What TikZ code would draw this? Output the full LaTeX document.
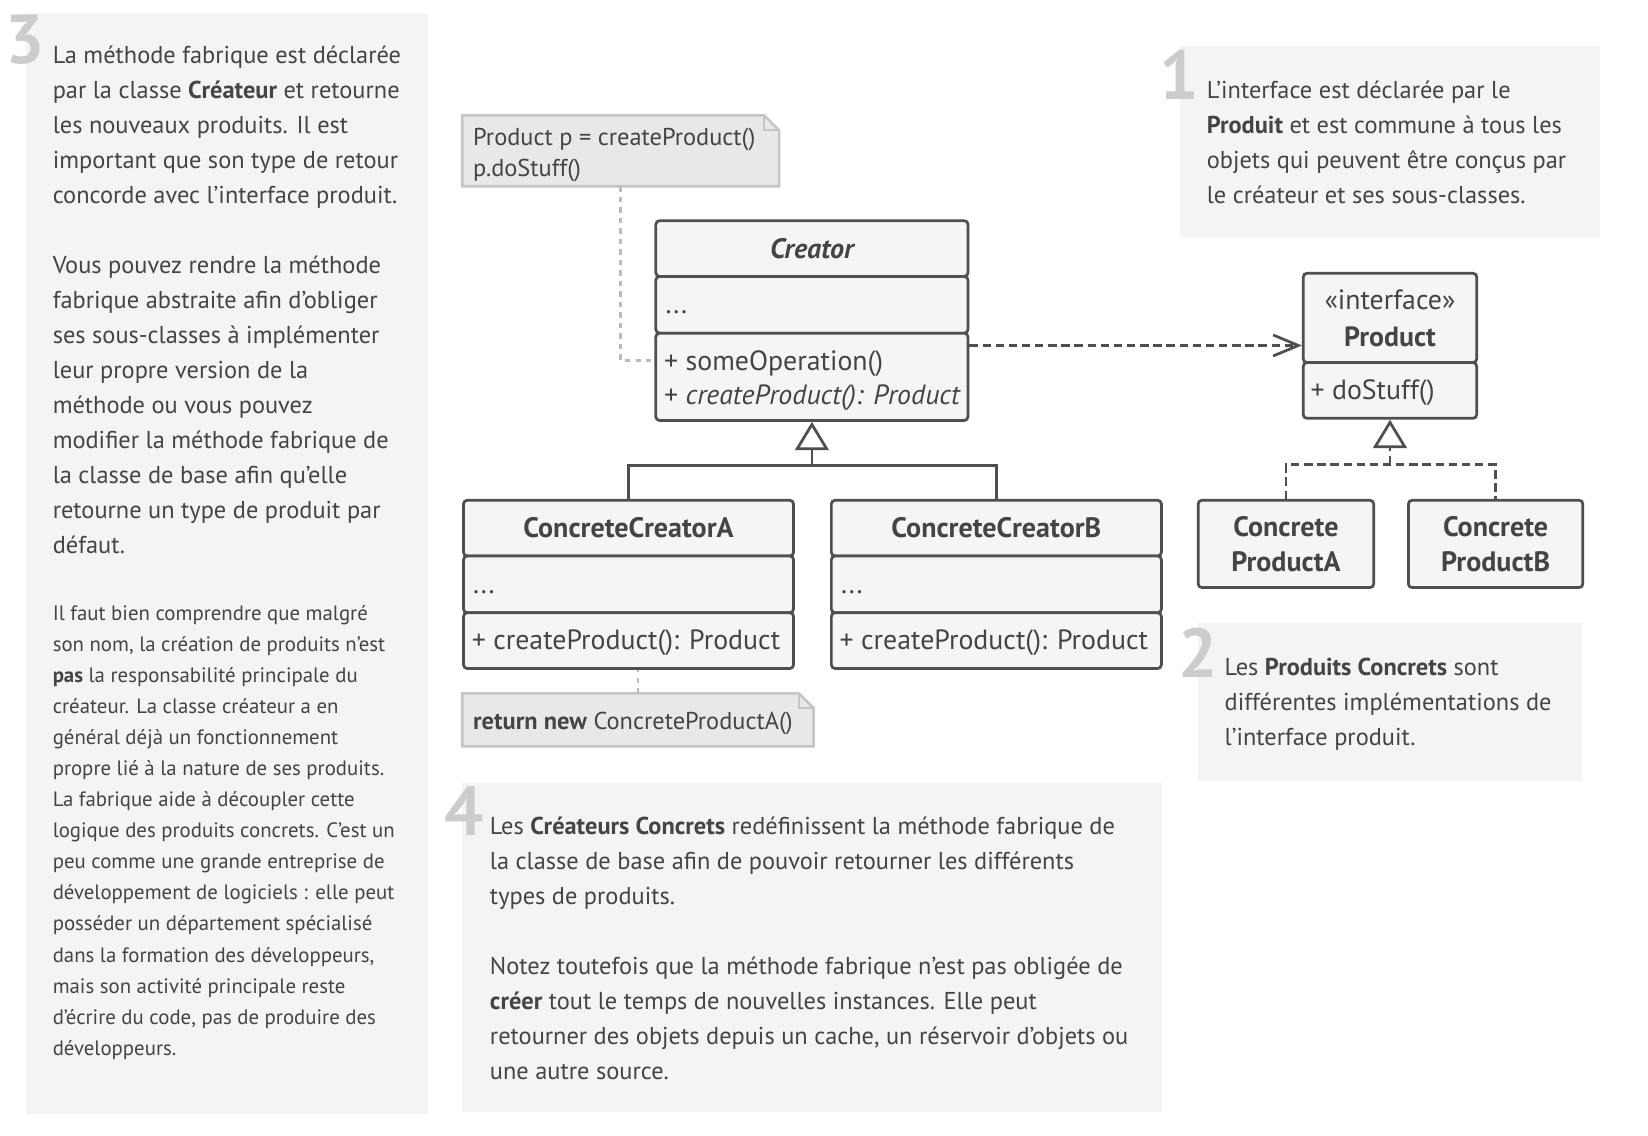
\documentclass[tikz,border=0pt]{standalone}
\usepackage{fontspec}
\setmainfont{PT Sans}
\usetikzlibrary{arrows.meta}

\definecolor{ink}{HTML}{444444}
\definecolor{edge}{HTML}{4F4F4F}
\definecolor{panel}{HTML}{F4F4F4}
\definecolor{boxfill}{HTML}{F5F5F5}
\definecolor{notefill}{HTML}{E8E8E8}
\definecolor{noteedge}{HTML}{C6C6C6}
\definecolor{numgray}{HTML}{CCCCCC}
\definecolor{tracer}{HTML}{BBBBBB}

\begin{document}
\begin{tikzpicture}[x=1pt,y=-1pt,
  panelbox/.style={fill=panel, draw=none},
  bignum/.style={font=\fontsize{66}{66}\selectfont\bfseries, text=numgray, inner sep=0pt, anchor=north east},
  bodytext/.style={font=\fontsize{23.2}{33.35}\selectfont, text=ink, align=left, inner sep=0pt, anchor=base west},
  smalltext/.style={bodytext, font=\fontsize{19.8}{29.57}\selectfont},
  comp/.style={draw=edge, fill=boxfill, line width=2.6pt, rounded corners=3.5pt, inner sep=0pt, text=ink},
  title/.style={font=\fontsize{26.7}{33}\selectfont\bfseries, align=center},
  member/.style={text=ink, font=\fontsize{26.5}{32}\selectfont, inner sep=0pt, align=left, anchor=west},
  notebox/.style={fill=notefill, draw=noteedge, line width=2.4pt, line join=miter},
  notetext/.style={text=ink, font=\fontsize{23.2}{30}\selectfont, inner sep=0pt, align=left, anchor=base west},
  noteline/.style={draw=tracer, line width=2.4pt, dash pattern=on 5pt off 5pt},
  solidline/.style={draw=edge, line width=2.6pt},
  dashline/.style={draw=edge, line width=2.6pt, dash pattern=on 8pt off 4.5pt},
  inherit/.style={-{Triangle[open, length=27pt, width=32pt, line width=2.6pt]}},
  depend/.style={-{Straight Barb[length=24pt, width=20pt, line width=2.6pt]}}
]
\useasboundingbox (0,0) rectangle (1568,1080);
\fill[white] (0,0) rectangle (1568,1080);

% ---- explanation panels ----
\fill[panelbox] (25,12) rectangle (407,1060);
\fill[panelbox] (1123,44) rectangle (1522,226);
\fill[panelbox] (1140,593) rectangle (1505,743);
\fill[panelbox] (440,745) rectangle (1106,1058);

\node[bignum] (n3) at (43,14) {3};
\node[bignum] (n1) at (1141,47) {1};
\node[bignum] (n2) at (1159,597) {2};
\node[bignum] (n4) at (461,748) {4};

% each text block is anchored on the baseline of its last line
\node[bodytext] (t3a) at (50,527) {La méthode fabrique est déclarée\\
par la classe \textbf{Créateur} et retourne\\
les nouveaux produits. Il est\\
important que son type de retour\\
concorde avec l’interface produit.\\[33.35pt]
Vous pouvez rendre la méthode\\
fabrique abstraite afin d’obliger\\
ses sous-classes à implémenter\\
leur propre version de la\\
méthode ou vous pouvez\\
modifier la méthode fabrique de\\
la classe de base afin qu’elle\\
retourne un type de produit par\\
défaut.};

\node[smalltext] (t3b) at (50,1004) {Il faut bien comprendre que malgré\\
son nom, la création de produits n’est\\
\textbf{pas} la responsabilité principale du\\
créateur. La classe créateur a en\\
général déjà un fonctionnement\\
propre lié à la nature de ses produits.\\
La fabrique aide à découpler cette\\
logique des produits concrets. C’est un\\
peu comme une grande entreprise de\\
développement de logiciels : elle peut\\
posséder un département spécialisé\\
dans la formation des développeurs,\\
mais son activité principale reste\\
d’écrire du code, pas de produire des\\
développeurs.};

\node[bodytext] (t1) at (1148,193.5) {L’interface est déclarée par le\\
\textbf{Produit} et est commune à tous les\\
objets qui peuvent être conçus par\\
le créateur et ses sous-classes.};

\node[bodytext] (t2) at (1165,709.5) {Les \textbf{Produits Concrets} sont\\
différentes implémentations de\\
l’interface produit.};

\node[bodytext] (t4) at (466,1027) {Les \textbf{Créateurs Concrets} redéfinissent la méthode fabrique de\\
la classe de base afin de pouvoir retourner les différents\\
types de produits.\\[33.35pt]
Notez toutefois que la méthode fabrique n’est pas obligée de\\
\textbf{créer} tout le temps de nouvelles instances. Elle peut\\
retourner des objets depuis un cache, un réservoir d’objets ou\\
une autre source.};

% ---- Creator ----
\node[comp, title, minimum width=297pt, minimum height=53pt, font=\fontsize{26.7}{33}\selectfont\bfseries\itshape] (crH) at (772.5,236.5) {Creator};
\node[comp, minimum width=297pt, minimum height=54pt] (crA) at (772.5,290) {};
\node[member, anchor=base west] (crAt) at (633,298) {...};
\node[comp, minimum width=297pt, minimum height=83pt] (crM) at (772.5,358.5) {};
\node[member] (crMt) at ([xshift=9pt, yshift=-3.5pt]crM.west) {+ someOperation()\\+ \textit{createProduct(): Product}};

% ---- Product interface ----
\node[comp, minimum width=165pt, minimum height=85pt, align=center, font=\fontsize{26.5}{35}\selectfont] (pH) at (1322.5,302.5) {«interface»\\\textbf{Product}};
\node[comp, minimum width=165pt, minimum height=53pt] (pM) at (1322.5,371.5) {};
\node[member] (pMt) at ([xshift=8pt, yshift=-2pt]pM.west) {+ doStuff()};

% ---- concrete products ----
\node[comp, title, minimum width=167pt, minimum height=83pt] (cpa) at (1223.5,517.5) {Concrete\\ProductA};
\node[comp, title, minimum width=166pt, minimum height=83pt] (cpb) at (1423,517.5) {Concrete\\ProductB};

% ---- concrete creators ----
\node[comp, title, minimum width=314pt, minimum height=53pt] (caH) at (598,502.5) {ConcreteCreatorA};
\node[comp, minimum width=314pt, minimum height=54pt] (caA) at (598,556) {};
\node[member, anchor=base west] (caAt) at (450,565) {...};
\node[comp, minimum width=314pt, minimum height=53pt] (caM) at (598,609.5) {};
\node[member] (caMt) at ([xshift=9pt, yshift=-2pt]caM.west) {+ createProduct(): Product};

\node[comp, title, minimum width=314pt, minimum height=53pt] (cbH) at (948,502.5) {ConcreteCreatorB};
\node[comp, minimum width=314pt, minimum height=54pt] (cbA) at (948,556) {};
\node[member, anchor=base west] (cbAt) at (800,565) {...};
\node[comp, minimum width=314pt, minimum height=53pt] (cbM) at (948,609.5) {};
\node[member] (cbMt) at ([xshift=9pt, yshift=-2pt]cbM.west) {+ createProduct(): Product};

% ---- notes with folded corner ----
\node[inner sep=0pt, minimum width=301pt, minimum height=67pt] (note1) at (590.5,143.5) {};
\draw[notebox] (note1.north west) -- ([xshift=-14pt]note1.north east) -- ([yshift=-14pt]note1.north east) -- (note1.south east) -- (note1.south west) -- cycle;
\draw[draw=noteedge, line width=2pt] ([xshift=-14pt]note1.north east) |- ([yshift=-14pt]note1.north east);
\node[notetext] (note1t) at (450,168) {Product p = createProduct()\\p.doStuff()};

\node[inner sep=0pt, minimum width=334pt, minimum height=50pt] (note2) at (607,685) {};
\draw[notebox] (note2.north west) -- ([xshift=-14pt]note2.north east) -- ([yshift=-14pt]note2.north east) -- (note2.south east) -- (note2.south west) -- cycle;
\draw[draw=noteedge, line width=2pt] ([xshift=-14pt]note2.north east) |- ([yshift=-14pt]note2.north east);
\node[notetext] (note2t) at (450,694) {\textbf{return new} ConcreteProductA()};

% ---- connectors ----
\draw[noteline] (note1.south) |- (crM.west |- 0,343);
\draw[noteline] (note2.north) -- (note2.north |- caM.south);

\draw[dashline, depend] ([yshift=-13pt]crM.north east) -- ([yshift=-13pt]crM.north east -| pH.west);

\coordinate (jc) at (772.5,443);
\draw[solidline] (caH.north) |- (jc) -| (cbH.north);
\draw[solidline, inherit] (jc) -- (crM.south);

\coordinate (jp) at (1322.5,442);
\draw[dashline] (cpa.north) |- (jp) -| (cpb.north);
\draw[dashline, inherit] (jp) -- (pM.south);
\end{tikzpicture}
\end{document}
